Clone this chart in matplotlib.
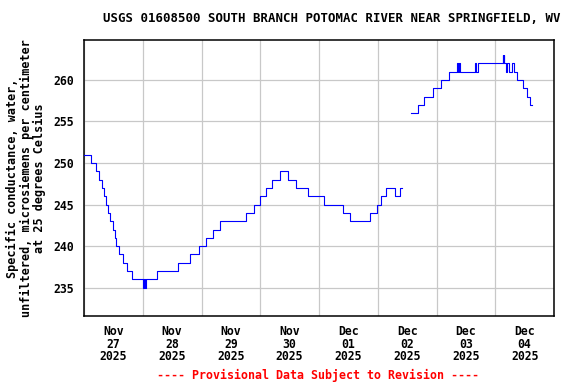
import pandas as pd
import matplotlib
matplotlib.use("Agg")
import matplotlib.pyplot as plt
import matplotlib.dates as mdates


# ======================
# data
# ======================
seg1_times = [
    "2025-11-27 00:00", "2025-11-27 03:00", "2025-11-27 04:45", "2025-11-27 06:00",
    "2025-11-27 07:15", "2025-11-27 08:15", "2025-11-27 09:00", "2025-11-27 09:45",
    "2025-11-27 10:45", "2025-11-27 11:45", "2025-11-27 12:30", "2025-11-27 13:15",
    "2025-11-27 14:15", "2025-11-27 15:45", "2025-11-27 17:30", "2025-11-27 19:30",
    "2025-11-28 00:15", "2025-11-28 00:30", "2025-11-28 00:45", "2025-11-28 01:15",
    "2025-11-28 05:45", "2025-11-28 14:30", "2025-11-28 19:15", "2025-11-28 23:00",
    "2025-11-29 02:00", "2025-11-29 04:45", "2025-11-29 07:30", "2025-11-29 18:15",
    "2025-11-29 21:30", "2025-11-30 00:00", "2025-11-30 02:30", "2025-11-30 05:00",
    "2025-11-30 08:15", "2025-11-30 11:15", "2025-11-30 14:45", "2025-11-30 19:30",
    "2025-12-01 02:00", "2025-12-01 09:45", "2025-12-01 12:30", "2025-12-01 20:45",
    "2025-12-01 23:30", "2025-12-02 01:15", "2025-12-02 03:15", "2025-12-02 07:00",
    "2025-12-02 09:00", "2025-12-02 10:00",
]
seg1_values = [
    251, 250, 249, 248,
    247, 246, 245, 244,
    243, 242, 241, 240,
    239, 238, 237, 236,
    235, 236, 235, 236,
    237, 238, 239, 240,
    241, 242, 243, 244,
    245, 246, 247, 248,
    249, 248, 247, 246,
    245, 244, 243, 244,
    245, 246, 247, 246,
    247, 247,
]

seg2_times = [
    "2025-12-02 13:45", "2025-12-02 16:15", "2025-12-02 19:00", "2025-12-02 22:30",
    "2025-12-03 02:00", "2025-12-03 05:00", "2025-12-03 08:30", "2025-12-03 08:45",
    "2025-12-03 09:00", "2025-12-03 09:30", "2025-12-03 15:45", "2025-12-03 16:15",
    "2025-12-03 16:45", "2025-12-04 03:00", "2025-12-04 03:15", "2025-12-04 03:30",
    "2025-12-04 03:45", "2025-12-04 04:15", "2025-12-04 05:00", "2025-12-04 05:30",
    "2025-12-04 07:00", "2025-12-04 07:30", "2025-12-04 09:00", "2025-12-04 11:15",
    "2025-12-04 13:00", "2025-12-04 14:15", "2025-12-04 15:00",
]
seg2_values = [
    256, 257, 258, 259,
    260, 261, 262, 261,
    262, 261, 262, 261,
    262, 263, 262, 263,
    262, 261, 262, 261,
    262, 261, 260, 259,
    258, 257, 257,
]

y_ticks = [235, 240, 245, 250, 255, 260]

title = "USGS 01608500 SOUTH BRANCH POTOMAC RIVER NEAR SPRINGFIELD, WV"
y_label = ("Specific conductance, water,\n"
           "unfiltered, microsiemens per centimeter\n"
           "at 25 degrees Celsius")
footer = "---- Provisional Data Subject to Revision ----"


# ======================
# plot
# ======================
plt.rcParams["font.family"] = ["DejaVu Sans Mono"]
plt.rcParams["font.weight"] = "bold"

fig = plt.figure(figsize=(5.76, 3.84), dpi=100)
ax = fig.add_axes([84 / 576, 1 - 316 / 384, (554 - 84) / 576, (316 - 40) / 384])

for times, values in [(seg1_times, seg1_values), (seg2_times, seg2_values)]:
    ax.plot(pd.to_datetime(times), values, drawstyle="steps-post",
            color="#0000ff", linewidth=0.8, zorder=3)

# axes range
ax.set_xlim(pd.Timestamp("2025-11-27 00:00"), pd.Timestamp("2025-12-05 00:00"))
ax.set_ylim(231.6, 264.8)

# ticks: labels at noon, grid at midnight
ax.xaxis.set_major_locator(mdates.HourLocator(byhour=12))
ax.xaxis.set_major_formatter(mdates.DateFormatter("%b\n%d\n%Y"))
ax.xaxis.set_minor_locator(mdates.DayLocator())
ax.set_yticks(y_ticks)

ax.tick_params(axis="both", which="both", length=0, labelsize=8.3)
ax.tick_params(axis="x", pad=6.5)
ax.tick_params(axis="y", pad=7)
fig.canvas.draw()
for lab in ax.get_xticklabels():
    lab.set_fontweight("bold")
    lab.set_linespacing(0.95)
for lab in ax.get_yticklabels():
    lab.set_fontweight("bold")

ax.grid(True, which="minor", axis="x", color="#c8c8c8", linewidth=0.9)
ax.grid(True, which="major", axis="y", color="#c8c8c8", linewidth=0.9)
ax.grid(False, which="major", axis="x")
ax.set_axisbelow(True)

for side in ax.spines.values():
    side.set_linewidth(1.1)
    side.set_color("black")

# texts
fig.text(332 / 576, 1 - 19 / 384, title, ha="center", va="center",
         fontsize=8.9, fontweight="bold")
fig.text(26 / 576, 1 - 178 / 384, y_label, ha="center", va="center",
         rotation=90, fontsize=8.5, fontweight="bold", linespacing=1.05)
fig.text(318 / 576, 1 - 375 / 384, footer, ha="center", va="center",
         fontsize=8.4, fontweight="bold", color="#ff0000")

fig.savefig("out.png", dpi=100)
plt.close(fig)
